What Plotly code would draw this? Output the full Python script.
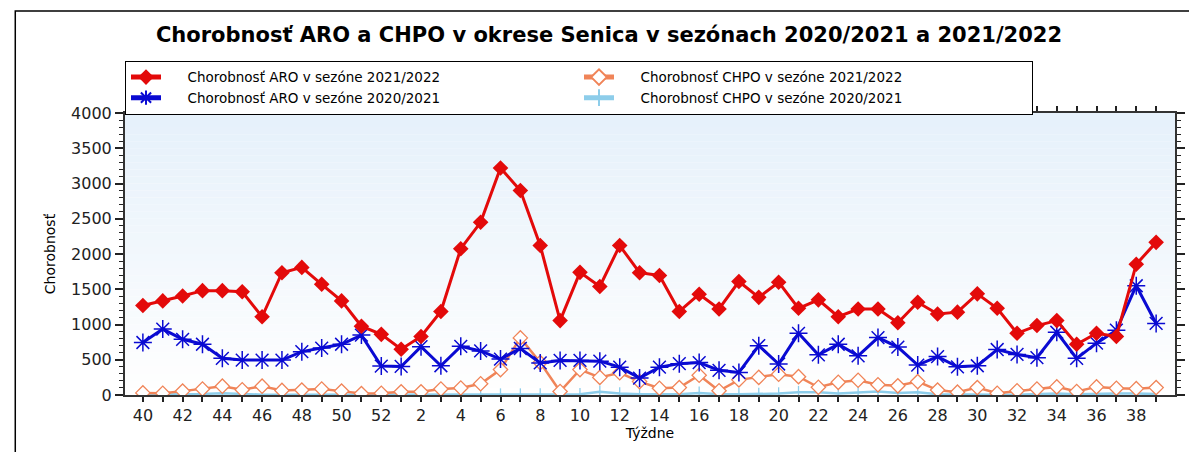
import plotly.graph_objects as go

weeks = list(range(40, 53)) + list(range(1, 40))
week_labels = [str(w) for w in weeks]

aro_2122 = [1270, 1335, 1405, 1480, 1480, 1465, 1110, 1735, 1810, 1570, 1335, 975, 860,
            650, 830, 1185, 2075, 2450, 3220, 2900, 2120, 1055, 1740, 1540, 2120, 1735,
            1695, 1185, 1430, 1220, 1610, 1385, 1600, 1230, 1350, 1110, 1220, 1220, 1025,
            1315, 1150, 1175, 1435, 1230, 875, 985, 1055, 720, 875, 830, 1855, 2165]

aro_2021 = [745, 935, 790, 720, 520, 495, 495, 495, 615, 665, 720, 850, 410,
            405, 685, 415, 690, 625, 510, 660, 455, 490, 490, 480, 395, 240,
            395, 445, 460, 350, 320, 700, 440, 875, 570, 720, 555, 815, 680,
            425, 545, 400, 415, 645, 575, 530, 890, 520, 735, 920, 1550, 1015]

chpo_2122 = [30, 25, 55, 85, 125, 75, 125, 65, 70, 85, 55, 20, 25,
             45, 45, 85, 100, 160, 360, 810, 460, 50, 360, 250, 315, 190,
             95, 105, 280, 60, 215, 250, 295, 260, 110, 180, 210, 145, 130,
             190, 70, 40, 105, 25, 60, 85, 115, 50, 115, 95, 90, 105]

chpo_2021 = [5, 5, 10, 15, 25, 10, 5, 5, 5, 5, 5, 5, 5,
             5, 5, 5, 5, 5, 5, 5, 5, 5, 10, 45, 20, 10,
             5, 10, 30, 10, 10, 15, 20, 40, 40, 20, 30, 50, 30,
             40, 10, 5, 10, 5, 5, 10, 20, 10, 20, 20, 20, 15]

y_ticks = [0, 500, 1000, 1500, 2000, 2500, 3000, 3500, 4000]

title_text = "Chorobnosť ARO a CHPO v okrese Senica v sezónach 2020/2021 a 2021/2022"
names = ["Chorobnosť ARO v sezóne 2021/2022",
         "Chorobnosť CHPO v sezóne 2021/2022",
         "Chorobnosť ARO v sezóne 2020/2021",
         "Chorobnosť CHPO v sezóne 2020/2021"]
PAD = "\u00a0\u00a0\u00a0\u00a0\u00a0"

RED = "#E30A0A"
BLUE = "#0A0AD2"
ORANGE = "#F08458"
LBLUE = "#8DCDEA"

fig = go.Figure()
# drawn bottom-to-top; legendrank keeps the legend order of the reference
fig.add_trace(go.Scatter(x=week_labels, y=chpo_2021, name=PAD + names[3], mode="lines+markers",
                         legendrank=4,
                         line=dict(color=LBLUE, width=2.5),
                         marker=dict(symbol="line-ns-open", size=9,
                                     line=dict(color=LBLUE, width=1.3))))
fig.add_trace(go.Scatter(x=week_labels, y=chpo_2122, name=PAD + names[1], mode="lines+markers",
                         legendrank=2,
                         line=dict(color=ORANGE, width=2.5),
                         marker=dict(symbol="diamond", size=11, color="white",
                                     line=dict(color=ORANGE, width=1.3))))
fig.add_trace(go.Scatter(x=week_labels, y=aro_2021, name=PAD + names[2], mode="lines+markers",
                         legendrank=3,
                         line=dict(color=BLUE, width=3),
                         marker=dict(symbol="asterisk-open", size=15,
                                     line=dict(color=BLUE, width=1.5))))
fig.add_trace(go.Scatter(x=week_labels, y=aro_2122, name=PAD + names[0], mode="lines+markers",
                         legendrank=1,
                         line=dict(color=RED, width=3),
                         marker=dict(symbol="diamond", size=12, color=RED)))

# gradient background bands
shapes = []
nb = 40
for i in range(nb):
    t = i / (nb - 1)
    r = int(255 - 25 * t)
    g = int(255 - 14 * t)
    b = int(255 - 4 * t)
    shapes.append(dict(type="rect", xref="paper", yref="paper",
                       x0=0, x1=1, y0=i / nb, y1=(i + 1) / nb,
                       fillcolor=f"rgb({r},{g},{b})", line=dict(width=0), layer="below"))
# outer frame
shapes.append(dict(type="rect", xref="paper", yref="paper",
                   x0=-0.1045, x1=1.05, y0=-0.3, y1=1.362,
                   line=dict(color="black", width=1.5), fillcolor="rgba(0,0,0,0)", layer="below"))

W, H = 1189, 444
fig.update_layout(
    width=W, height=H,
    margin=dict(l=117, r=15, t=105, b=57),
    paper_bgcolor="white", plot_bgcolor="white",
    font=dict(family="DejaVu Sans", size=14, color="black"),
    title=dict(text="<b>" + title_text + "</b>", x=(609 - 8) / W, xanchor="center",
               y=1 - 27 / H, yanchor="middle", yref="container",
               font=dict(family="DejaVu Sans", size=21, color="black")),
    legend=dict(orientation="h", x=0, xanchor="left", y=1.185, yanchor="top",
                bgcolor="white", bordercolor="black", borderwidth=1,
                entrywidth=408, entrywidthmode="pixels",
                font=dict(family="DejaVu Sans", size=13.5),
                traceorder="normal", itemsizing="constant",
                tracegroupgap=0),
    shapes=shapes,
    showlegend=True,
)

fig.update_xaxes(
    type="category", range=[-0.9, 51.95],
    tickmode="array", tickvals=week_labels,
    ticktext=[w if int(w) % 2 == 0 else "" for w in week_labels],
    ticks="outside", ticklen=5, tickwidth=1.5, tickcolor="#222",
    showline=True, linecolor="#333", linewidth=2, mirror="allticks",
    showgrid=False, zeroline=False,
    tickfont=dict(family="DejaVu Sans", size=16, color="#222"),
    title=dict(text="Týždne", standoff=1, font=dict(family="DejaVu Sans", size=14)),
)
fig.update_yaxes(
    range=[0, 4000], tickmode="array", tickvals=y_ticks,
    ticks="outside", ticklen=8, tickwidth=1.5, tickcolor="#222",
    minor=dict(tickmode="linear", tick0=0, dtick=100, ticks="outside", ticklen=4,
               tickcolor="#222", tickwidth=1),
    showline=True, linecolor="#333", linewidth=2, mirror="allticks",
    showgrid=False, zeroline=False,
    tickfont=dict(family="DejaVu Sans", size=16, color="#222"),
    title=dict(text="Chorobnosť", standoff=12, font=dict(family="DejaVu Sans", size=14)),
)

fig.write_html("out.html")
